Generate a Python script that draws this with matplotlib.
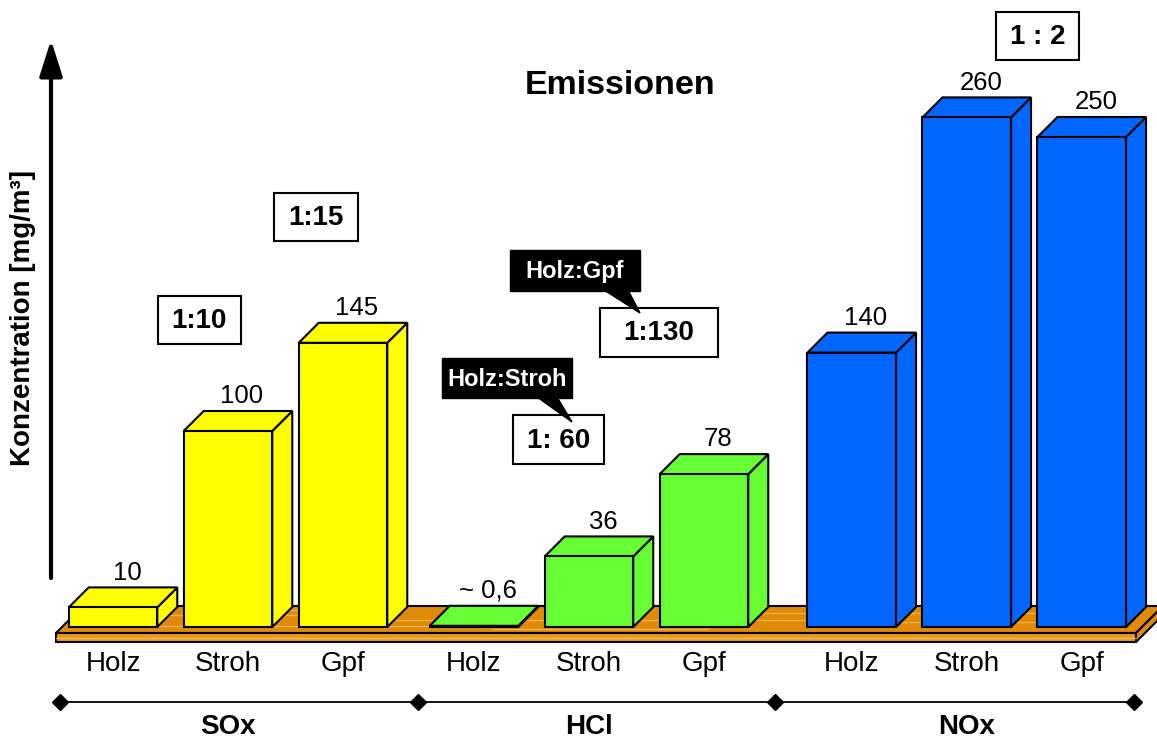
import matplotlib
matplotlib.use("Agg")
import matplotlib.pyplot as plt
from matplotlib.patches import Polygon, Rectangle

plt.rcParams['font.family'] = ['Liberation Sans', 'DejaVu Sans']

# ---- data -------------------------------------------------------------
groups = ["SOx", "HCl", "NOx"]
fuels = ["Holz", "Stroh", "Gpf"]
sox = [10, 100, 145]
hcl = [0.6, 36, 78]
nox = [140, 260, 250]
value_labels = [["10", "100", "145"],
                ["~ 0,6", "36", "78"],
                ["140", "260", "250"]]
ratio_labels = ["1:10", "1:15", "1: 60", "1:130", "1 : 2"]
callout_labels = ["Holz:Stroh", "Holz:Gpf"]
title = "Emissionen"
ylabel = "Konzentration [mg/m³]"

series = [sox, hcl, nox]
colors = ["#FFFF00", "#66FF33", "#0066FF"]

# ---- layout -----------------------------------------------------------
W, H = 1157, 740
fig = plt.figure(figsize=(W / 100, H / 100), dpi=100)

X_PX = 115.0          # pixels per bar slot
Y_PX = 1.96           # pixels per mg/m³
X0_PX, BASE_PX = 113, 627
group_start = [0.0, 3.139, 6.424]
bar_w = 0.77
dep_x, dep_y = 20 / X_PX, 20 / Y_PX     # oblique depth of the bars

ax = fig.add_axes([0, 0, 1, 1])
ax.set_xlim(-X0_PX / X_PX, (W - X0_PX) / X_PX)
ax.set_ylim(-(H - BASE_PX) / Y_PX, BASE_PX / Y_PX)
ax.axis("off")

# floor slab (wood board)
fl_x0, fl_x1 = (56 - X0_PX) / X_PX, (1136 - X0_PX) / X_PX
fl_top, fl_bot = -6 / Y_PX, -15 / Y_PX
fdx, fdy = 27 / X_PX, 27 / Y_PX
wood = "#E08A08"
floor_top = [(fl_x0, fl_top), (fl_x1, fl_top), (fl_x1 + fdx, fl_top + fdy), (fl_x0 + fdx, fl_top + fdy)]
floor_side = [(fl_x1, fl_bot), (fl_x1, fl_top), (fl_x1 + fdx, fl_top + fdy), (fl_x1 + fdx, fl_bot + fdy)]
for poly in (floor_top, floor_side):
    ax.add_patch(Polygon(poly, closed=True, facecolor=wood, edgecolor="black", lw=1.5, zorder=1))
ax.add_patch(Rectangle((fl_x0, fl_bot), fl_x1 - fl_x0, fl_top - fl_bot,
                       facecolor="#E99A1A", edgecolor="black", lw=1.5, zorder=1))
# light grain streaks on the board
for frac, a, b in [(0.25, 0.02, 0.35), (0.5, 0.3, 0.7), (0.75, 0.55, 0.95), (0.4, 0.75, 0.98),
                   (0.65, 0.05, 0.25), (0.15, 0.4, 0.6), (0.85, 0.1, 0.3)]:
    yy = fl_top + frac * fdy
    xa = fl_x0 + frac * fdx + a * (fl_x1 - fl_x0)
    xb = fl_x0 + frac * fdx + b * (fl_x1 - fl_x0)
    ax.plot([xa, xb], [yy, yy], color="#F4B95A", lw=1.0, alpha=0.8, zorder=1.1)
ax.plot([fl_x0, fl_x1], [(fl_top + fl_bot) / 2] * 2, color="#F6C070", lw=1.0, alpha=0.8, zorder=1.1)

# bars drawn as oblique boxes
for g, (vals, col) in enumerate(zip(series, colors)):
    for i, v in enumerate(vals):
        xc = group_start[g] + i
        x0, x1 = xc - bar_w / 2, xc + bar_w / 2
        side = [(x1, 0), (x1 + dep_x, dep_y), (x1 + dep_x, v + dep_y), (x1, v)]
        top = [(x0, v), (x1, v), (x1 + dep_x, v + dep_y), (x0 + dep_x, v + dep_y)]
        ax.add_patch(Polygon(side, closed=True, facecolor=col, edgecolor="black", lw=1.5, zorder=2))
        ax.add_patch(Polygon(top, closed=True, facecolor=col, edgecolor="black", lw=1.5, zorder=2))
        ax.add_patch(Rectangle((x0, 0), bar_w, v, facecolor=col, edgecolor="black", lw=1.5, zorder=2.1))
        ax.text(xc + 0.7 * dep_x, v + dep_y + 4.0, value_labels[g][i],
                ha="center", va="baseline", fontsize=18.5, zorder=3)
        ax.text(xc, -37 / Y_PX, fuels[i], ha="center", va="center", fontsize=20)

# group brackets
brk_y = -75 / Y_PX
brk_x = [(60 - X0_PX) / X_PX, (418 - X0_PX) / X_PX, (775 - X0_PX) / X_PX, (1134 - X0_PX) / X_PX]
ax.plot(brk_x, [brk_y] * 4, color="black", lw=1.3, marker="D", markersize=8,
        markerfacecolor="black", zorder=3)
for g, name in enumerate(groups):
    ax.text(group_start[g] + 1, -100 / Y_PX, name, ha="center", va="center",
            fontsize=20, fontweight="bold")

# ---- annotation overlay in pixel layout -------------------------------
ov = fig.add_axes([0, 0, 1, 1], facecolor="none")
ov.set_xlim(0, W)
ov.set_ylim(H, 0)
ov.axis("off")

# vertical arrow axis
ov.annotate("", xy=(51, 40), xytext=(51, 578),
            arrowprops=dict(arrowstyle="-|>,head_length=2.2,head_width=0.7",
                            lw=3, color="black", shrinkA=0, shrinkB=0))
ov.text(23, 318, ylabel, rotation=90, ha="center", va="center",
        fontsize=20, fontweight="bold")
ov.text(620, 86, title, ha="center", va="center", fontsize=24.5, fontweight="bold")

# ratio boxes: (center x, center y, width, height)
ratio_boxes = [(199, 320, 83, 48), (316, 217, 84, 48), (558.5, 439.5, 91, 49),
               (659, 332.5, 118, 49), (1037.5, 36, 83, 48)]
for lab, (cx, cy, bw, bh) in zip(ratio_labels, ratio_boxes):
    ov.add_patch(Rectangle((cx - bw / 2, cy - bh / 2), bw, bh, facecolor="white",
                           edgecolor="black", lw=1.5, zorder=4))
    ov.text(cx, cy + 1, lab, ha="center", va="center", fontsize=20,
            fontweight="bold", zorder=5)

# black speech-bubble callouts: box (x0, y0, x1, y1), pointer (base a, base b, tip)
callouts = [((442, 358, 572, 398), (537, 557, (572, 422))),
            ((510, 250, 640, 291), (604, 628, (640, 313)))]
for lab, ((bx0, by0, bx1, by1), (pa, pb, tip)) in zip(callout_labels, callouts):
    ov.add_patch(Rectangle((bx0, by0), bx1 - bx0, by1 - by0, facecolor="black",
                           edgecolor="black", lw=1, zorder=6))
    ov.add_patch(Polygon([(pa, by1 - 1), (pb, by1 - 1), tip], closed=True,
                         facecolor="black", edgecolor="black", lw=1, zorder=6))
    ov.text((bx0 + bx1) / 2, (by0 + by1) / 2 + 1, lab, ha="center", va="center",
            color="white", fontsize=17, fontweight="bold", zorder=7)

fig.savefig("out.png", dpi=100)
